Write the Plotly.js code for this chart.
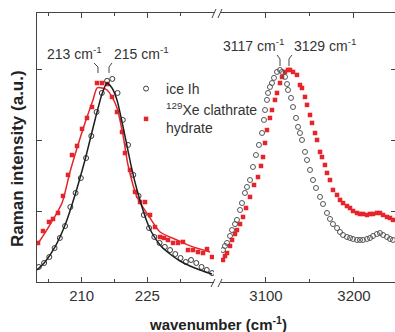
<!DOCTYPE html>
<html>
<head>
<meta charset="utf-8">
<script src="https://cdn.plot.ly/plotly-3.0.1.min.js"></script>
<style>
html,body{margin:0;padding:0;overflow:hidden;background:#fff;}
#chart{width:397px;height:332px;}
</style>
</head>
<body>
<div id="chart"></div>
<script>
// ---- Data ----
// Lattice region (cm^-1)
const iceLowX = [200.2,201.4,202.6,203.8,205.0,206.2,207.4,208.6,209.8,211.0,212.2,213.4,214.6,215.8,217.0,218.2,219.4,220.6,221.8,223.0,224.2,225.4,226.6,227.8,229.0,230.2,231.4,232.6,233.8,235.0,236.2,237.4,238.6,239.8];
const iceLowY = [0.113,0.141,0.183,0.246,0.317,0.401,0.535,0.634,0.739,0.880,1.035,1.204,1.338,1.423,1.437,1.338,1.148,0.972,0.761,0.613,0.479,0.387,0.324,0.282,0.254,0.232,0.204,0.176,0.148,0.162,0.141,0.113,0.092,0.070];
const iceFitX = [199.78,201.61,203.90,206.19,208.47,210.75,213.04,214.64,215.79,216.93,218.07,219.22,220.36,221.50,222.65,223.79,224.94,226.08,227.91,230.19,232.48,234.77,237.06,239.80];
const iceFitY = [0.092,0.148,0.254,0.408,0.620,0.866,1.148,1.331,1.408,1.373,1.289,1.134,0.965,0.796,0.655,0.535,0.430,0.352,0.268,0.204,0.155,0.120,0.092,0.063];
const xeLowX = [200.01,201.15,202.52,203.44,204.58,205.72,206.87,207.78,208.93,210.07,211.21,212.35,213.50,214.64,215.79,216.93,218.07,219.22,219.90,221.04,222.19,223.33,224.47,225.62,226.76,227.90,228.82,229.73,230.88,232.02,233.16,234.31,235.45,236.59,237.74,238.65,239.80];
const xeLowY = [0.282,0.366,0.430,0.451,0.493,0.613,0.761,0.901,0.965,1.085,1.162,1.239,1.408,1.408,1.401,1.310,1.204,1.063,0.915,0.796,0.641,0.570,0.570,0.479,0.394,0.324,0.317,0.303,0.282,0.282,0.289,0.232,0.232,0.218,0.211,0.239,0.183];
const xeFitX = [199.78,202.29,205.50,207.32,209.15,210.75,212.58,213.50,214.64,215.79,216.93,218.07,219.44,220.59,222.65,225.62,227.91,231.79,235.45,239.34];
const xeFitY = [0.268,0.387,0.563,0.782,0.972,1.127,1.289,1.373,1.373,1.359,1.310,1.232,1.042,0.831,0.606,0.458,0.359,0.303,0.254,0.218];
// O-H stretching region (cm^-1)
const iceHighX = [3051.1,3053.4,3055.7,3059.1,3061.4,3064.8,3067.0,3070.5,3072.7,3076.1,3078.4,3081.8,3085.2,3088.6,3092.0,3095.5,3097.7,3098.9,3101.1,3102.3,3104.5,3106.8,3109.1,3112.5,3115.9,3118.2,3121.6,3123.9,3125.0,3128.4,3130.7,3134.1,3136.4,3138.6,3140.9,3144.3,3146.6,3150.0,3153.4,3156.8,3161.4,3164.8,3169.3,3172.7,3176.1,3180.7,3184.1,3187.5,3192.0,3195.5,3198.9,3203.4,3206.8,3210.2,3214.8,3218.2,3221.6,3226.1,3229.5,3233.0,3237.5,3240.9,3244.3];
const iceHighY = [0.232,0.261,0.282,0.331,0.373,0.415,0.444,0.514,0.563,0.634,0.676,0.725,0.817,0.901,0.972,1.056,1.148,1.218,1.289,1.338,1.380,1.408,1.444,1.486,1.500,1.486,1.451,1.401,1.359,1.303,1.239,1.162,1.099,1.056,1.007,0.923,0.866,0.796,0.725,0.669,0.606,0.556,0.493,0.451,0.415,0.387,0.359,0.338,0.324,0.317,0.310,0.303,0.303,0.303,0.310,0.317,0.331,0.345,0.352,0.338,0.324,0.310,0.303];
const xeHighX = [3051.1,3053.4,3055.7,3059.1,3061.4,3064.8,3067.0,3070.5,3073.9,3077.3,3081.8,3086.4,3090.9,3094.3,3096.6,3098.9,3101.1,3104.5,3106.8,3110.2,3112.5,3115.9,3118.2,3121.6,3125.0,3127.3,3130.7,3135.2,3138.6,3140.9,3144.3,3146.6,3150.0,3152.3,3155.7,3158.0,3161.4,3163.6,3167.0,3169.3,3172.7,3176.1,3180.7,3184.1,3187.5,3192.0,3195.5,3198.9,3203.4,3206.8,3210.2,3214.8,3218.2,3221.6,3226.1,3229.5,3233.0,3237.5,3240.9,3244.3];
const xeHighY = [0.162,0.190,0.211,0.261,0.303,0.345,0.373,0.415,0.465,0.528,0.606,0.690,0.746,0.824,0.887,0.986,1.077,1.162,1.218,1.289,1.338,1.408,1.451,1.486,1.500,1.500,1.486,1.465,1.394,1.373,1.310,1.254,1.183,1.127,1.056,1.007,0.923,0.887,0.831,0.775,0.725,0.655,0.620,0.585,0.563,0.542,0.528,0.507,0.493,0.486,0.486,0.479,0.486,0.486,0.493,0.493,0.479,0.465,0.458,0.444];
// Axis ticks / labels
const lowTicks = [210, 225];
const lowMinor = [202.5, 217.5, 232.5];
const highTicks = [3100, 3200];
const highMinor = [3150];
const yTicks = [0.5, 1.0, 1.5];
const seriesNames = ['ice Ih', '<sup>129</sup>Xe clathrate<br>hydrate'];
const peakLabels = ['213 cm<sup>-1</sup>', '215 cm<sup>-1</sup>', '3117 cm<sup>-1</sup>', '3129 cm<sup>-1</sup>'];

const RED = '#e5242b';
const FONT = 'Liberation Sans, Arial, Helvetica, sans-serif';

const traces = [
  {x: xeLowX, y: xeLowY, xaxis:'x', yaxis:'y', mode:'markers', name: seriesNames[1], legendrank: 2,
   marker:{symbol:'square', size:4.5, color:RED}},
  {x: xeHighX, y: xeHighY, xaxis:'x2', yaxis:'y2', mode:'markers', showlegend:false,
   marker:{symbol:'square', size:4.5, color:RED}},
  {x: iceLowX, y: iceLowY, xaxis:'x', yaxis:'y', mode:'markers', name: seriesNames[0], legendrank: 1,
   marker:{symbol:'circle-open', size:5, color:'#3a3a3a', line:{width:1}}},
  {x: iceHighX, y: iceHighY, xaxis:'x2', yaxis:'y2', mode:'markers', showlegend:false,
   marker:{symbol:'circle-open', size:5, color:'#555', line:{width:1}}},
  {x: xeFitX, y: xeFitY, xaxis:'x', yaxis:'y', mode:'lines', showlegend:false,
   line:{color:RED, width:1.5, shape:'spline', smoothing:0.6}},
  {x: iceFitX, y: iceFitY, xaxis:'x', yaxis:'y', mode:'lines', showlegend:false,
   line:{color:'#1e1e1e', width:1.5, shape:'spline', smoothing:0.6}}
];

const axisCommon = {
  showline:true, linecolor:'#444', linewidth:1,
  ticks:'inside', ticklen:5, tickcolor:'#444', tickwidth:1,
  showgrid:false, zeroline:false,
  tickfont:{family:FONT, size:15, color:'#333'}
};

const layout = {
  width:397, height:332,
  margin:{l:37, r:1, t:13, b:50},
  paper_bgcolor:'#fff', plot_bgcolor:'#fff',
  showlegend:true,
  legend:{x:0.2480, y:0.777, xanchor:'left', yanchor:'top', bgcolor:'rgba(0,0,0,0)',
          font:{family:FONT, size:14, color:'#333'}, tracegroupgap:0, itemwidth:30},
  xaxis: Object.assign({}, axisCommon, {domain:[0, 0.49304], range:[199.78, 240.25], anchor:'y', mirror:'ticks',
          tickmode:'array', tickvals:lowTicks,
          minor:{tickmode:'array', tickvals:lowMinor, ticks:'inside', ticklen:3, tickcolor:'#444'}}),
  xaxis2: Object.assign({}, axisCommon, {domain:[0.51253, 1], range:[3048.86, 3247.73], anchor:'y2', mirror:'ticks',
          tickmode:'array', tickvals:highTicks,
          minor:{tickmode:'array', tickvals:highMinor, ticks:'inside', ticklen:3, tickcolor:'#444'}}),
  yaxis: Object.assign({}, axisCommon, {range:[0.007, 1.901], anchor:'x', side:'left', mirror:false,
          tickmode:'array', tickvals:yTicks, showticklabels:false}),
  yaxis2: Object.assign({}, axisCommon, {range:[0.007, 1.901], anchor:'x2', side:'right', mirror:false,
          tickmode:'array', tickvals:yTicks, showticklabels:false}),
  annotations:[
    {text: peakLabels[0], xref:'paper', yref:'paper', x:0.1031, y:0.8513, showarrow:false, xanchor:'center', yanchor:'middle', font:{family:FONT, size:14, color:'#333'}},
    {text: peakLabels[1], xref:'paper', yref:'paper', x:0.2897, y:0.8513, showarrow:false, xanchor:'center', yanchor:'middle', font:{family:FONT, size:14, color:'#333'}},
    {text: peakLabels[2], xref:'paper', yref:'paper', x:0.6017, y:0.8810, showarrow:false, xanchor:'center', yanchor:'middle', font:{family:FONT, size:14, color:'#333'}},
    {text: peakLabels[3], xref:'paper', yref:'paper', x:0.8022, y:0.8810, showarrow:false, xanchor:'center', yanchor:'middle', font:{family:FONT, size:14, color:'#333'}},
    {text:'<b>Raman intensity (a.u.)</b>', xref:'paper', yref:'paper', x:-0.0557, y:0.4572, textangle:-90, showarrow:false, xanchor:'center', yanchor:'middle', font:{family:FONT, size:17, color:'#222'}},
    {text:'<b>wavenumber (cm<sup>-1</sup>)</b>', xref:'paper', yref:'paper', x:0.5028, y:-0.1561, showarrow:false, xanchor:'center', yanchor:'middle', font:{family:FONT, size:15, color:'#222'}}
  ],
  shapes:[
    // peak brackets
    {type:'path', xref:'paper', yref:'paper', path:'M0.1588,0.8141 L0.1699,0.7993 L0.1699,0.7770', line:{color:'#444', width:1}},
    {type:'path', xref:'paper', yref:'paper', path:'M0.2089,0.8141 L0.2006,0.7993 L0.2006,0.7770', line:{color:'#444', width:1}},
    {type:'path', xref:'paper', yref:'paper', path:'M0.6685,0.8439 L0.6769,0.8290 L0.6769,0.8030', line:{color:'#444', width:1}},
    {type:'path', xref:'paper', yref:'paper', path:'M0.7103,0.8439 L0.7019,0.8290 L0.7019,0.8030', line:{color:'#444', width:1}},
    // axis break marks (bottom)
    {type:'line', xref:'paper', yref:'paper', x0:0.4847, y0:-0.0186, x1:0.4958, y1:0.0112, line:{color:'#444', width:1}},
    {type:'line', xref:'paper', yref:'paper', x0:0.5042, y0:-0.0186, x1:0.5153, y1:0.0112, line:{color:'#444', width:1}},
    // axis break marks (top)
    {type:'line', xref:'paper', yref:'paper', x0:0.4875, y0:0.9814, x1:0.4986, y1:1.0149, line:{color:'#444', width:1}},
    {type:'line', xref:'paper', yref:'paper', x0:0.5042, y0:0.9814, x1:0.5153, y1:1.0149, line:{color:'#444', width:1}}
  ]
};

Plotly.newPlot('chart', traces, layout, {displayModeBar:false, staticPlot:true});
</script>
</body>
</html>
